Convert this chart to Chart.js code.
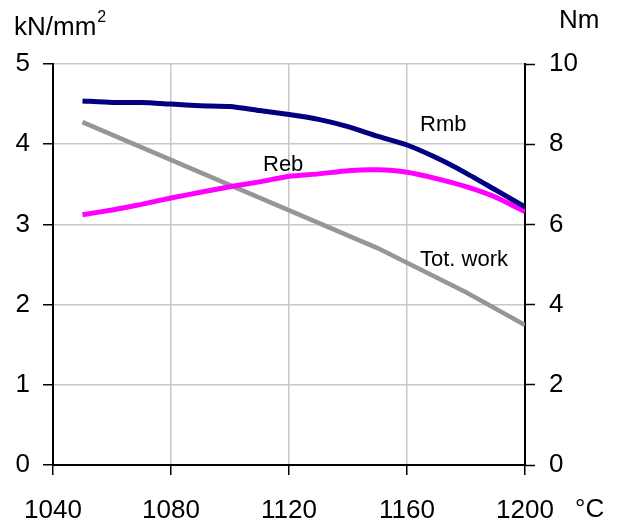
<!DOCTYPE html>
<html>
<head>
<meta charset="utf-8">
<script src="https://cdn.jsdelivr.net/npm/chart.js@4/dist/chart.umd.min.js"></script>
<style>
  html, body { margin: 0; padding: 0; background: #fff; }
  #wrap { width: 624px; height: 524px; }
</style>
</head>
<body>
<div id="wrap"><canvas id="chart" width="624" height="524"></canvas></div>
<script>
// 데이터 (온도 °C)
const tempRmb = [1050, 1060, 1070, 1080, 1090, 1100, 1110, 1120, 1130, 1140, 1150, 1160, 1170, 1180, 1190, 1200];
const rmbValues = [4.54, 4.52, 4.52, 4.50, 4.48, 4.47, 4.42, 4.37, 4.31, 4.22, 4.10, 3.99, 3.83, 3.64, 3.43, 3.22];

const tempReb = [1050, 1060, 1070, 1080, 1090, 1100, 1110, 1120, 1130, 1140, 1150, 1160, 1170, 1180, 1190, 1200];
const rebValues = [3.12, 3.18, 3.25, 3.33, 3.40, 3.47, 3.53, 3.60, 3.63, 3.67, 3.68, 3.65, 3.57, 3.47, 3.34, 3.16];

const tempWork = [1050, 1100, 1150, 1180, 1200];
const workValues = [8.55, 6.98, 5.41, 4.31, 3.49];

const xTicks = [1040, 1080, 1120, 1160, 1200];

// 곡선 옆 라벨
const seriesLabels = [
  { text: 'Rmb', x: 420, y: 131 },
  { text: 'Reb', x: 263, y: 171 },
  { text: 'Tot. work', x: 420, y: 266 }
];

const FONT = "'Liberation Sans', Arial, sans-serif";
const gridColor = '#c8c8c8';

function toPoints(xs, ys) {
  return xs.map((x, i) => ({ x: x, y: ys[i] }));
}

// 축 제목, 라벨 그리기
const textPlugin = {
  id: 'texts',
  afterDraw(chart) {
    const ctx = chart.ctx;
    ctx.save();
    ctx.fillStyle = '#000';
    ctx.textBaseline = 'alphabetic';
    ctx.textAlign = 'left';
    ctx.font = '26px ' + FONT;
    ctx.fillText('kN/mm', 14, 35);
    const w = ctx.measureText('kN/mm').width;
    ctx.font = '16px ' + FONT;
    ctx.fillText('2', 14 + w + 1, 22);
    ctx.font = '26px ' + FONT;
    ctx.fillText('Nm', 559, 28);
    ctx.fillText('°C', 575, 517);
    ctx.font = '22px ' + FONT;
    seriesLabels.forEach(l => ctx.fillText(l.text, l.x, l.y));
    ctx.restore();
  }
};

const ctx = document.getElementById('chart').getContext('2d');
new Chart(ctx, {
  type: 'line',
  data: {
    datasets: [
      {
        label: 'Rmb',
        data: toPoints(tempRmb, rmbValues),
        borderColor: '#000080',
        borderWidth: 5,
        pointRadius: 0,
        tension: 0.2,
        yAxisID: 'y'
      },
      {
        label: 'Reb',
        data: toPoints(tempReb, rebValues),
        borderColor: '#ff00ff',
        borderWidth: 5,
        pointRadius: 0,
        tension: 0.2,
        yAxisID: 'y'
      },
      {
        label: 'Tot. work',
        data: toPoints(tempWork, workValues),
        borderColor: '#969696',
        borderWidth: 4.5,
        pointRadius: 0,
        tension: 0,
        yAxisID: 'y2'
      }
    ]
  },
  options: {
    responsive: false,
    animation: false,
    layout: { padding: { top: 64, left: 0, right: 0, bottom: 0 } },
    plugins: {
      legend: { display: false },
      tooltip: { enabled: false }
    },
    scales: {
      x: {
        type: 'linear',
        min: 1040,
        max: 1200,
        afterBuildTicks: scale => { scale.ticks = xTicks.map(v => ({ value: v })); },
        afterFit: scale => { scale.height = 59; },
        grid: { color: gridColor, lineWidth: 1.5, tickLength: 10, tickColor: '#000', tickWidth: 1.5 },
        border: { color: '#000', width: 2 },
        ticks: {
          color: '#000',
          font: { family: FONT, size: 26 },
          padding: 20,
          maxRotation: 0,
          callback: v => String(v)
        }
      },
      y: {
        position: 'left',
        min: 0,
        max: 5,
        ticks: { stepSize: 1, color: '#000', font: { family: FONT, size: 26 }, padding: 13 },
        afterFit: scale => { scale.width = 53; },
        grid: { color: gridColor, lineWidth: 1.5, tickLength: 10, tickColor: '#000', tickWidth: 1.5 },
        border: { color: '#000', width: 2 }
      },
      y2: {
        position: 'right',
        min: 0,
        max: 10,
        ticks: { stepSize: 2, color: '#000', font: { family: FONT, size: 26 }, padding: 14 },
        afterFit: scale => { scale.width = 99; },
        grid: { drawOnChartArea: false, tickLength: 10, tickColor: '#000', tickWidth: 1.5 },
        border: { color: '#000', width: 2 }
      }
    }
  },
  plugins: [textPlugin]
});
</script>
</body>
</html>
